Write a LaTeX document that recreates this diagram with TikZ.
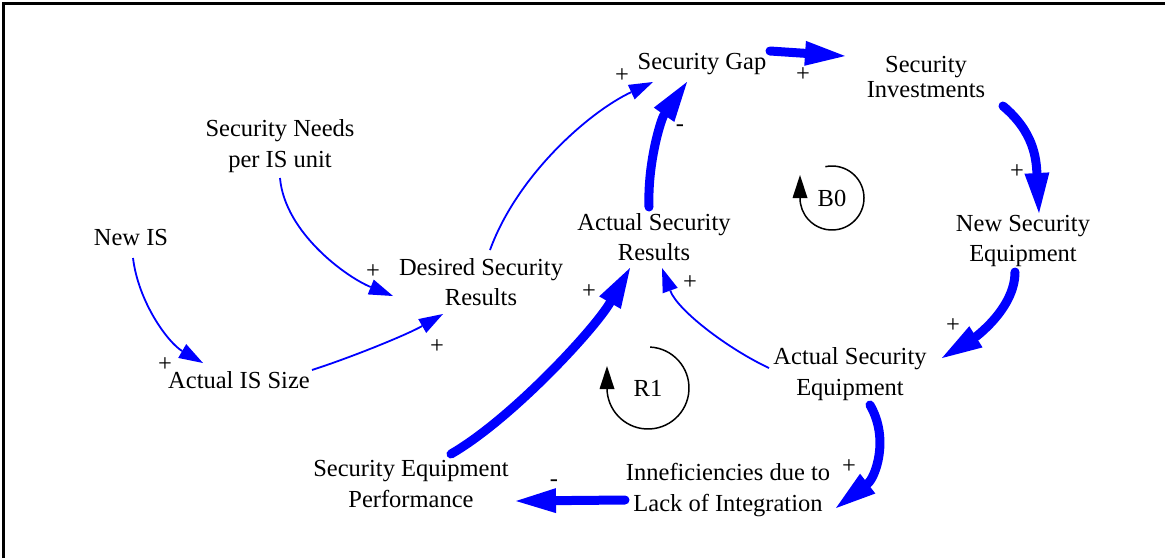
\documentclass[tikz,border=0pt]{standalone}
\usepackage{fontspec}
\setmainfont{Liberation Serif}
\usetikzlibrary{arrows.meta,calc}
\definecolor{linkblue}{RGB}{0,0,255}
\begin{document}
\begin{tikzpicture}[x=1pt,y=1pt,
  var/.style={align=center, inner sep=0pt, font=\fontsize{24.5}{30.5}\selectfont},
  sign/.style={inner sep=0pt, font=\fontsize{24.5}{30.5}\selectfont},
  thin link/.style={draw=linkblue, line width=1.8pt,
    -{Triangle[length=24pt,width=16pt,line width=0pt]}},
  thick link/.style={draw=linkblue, line width=9pt, line cap=round,
    -{Triangle[length=40pt,width=25pt,line width=0pt]}},
  loop arc/.style={draw=black, line width=1.5pt},
  loop tip/.style={draw=black, line width=1.5pt,
    -{Triangle[length=23pt,width=15pt,line width=0pt]}}
]
\useasboundingbox (0,0) rectangle (1165,-558);
% frame along the top and left edges
\draw[line width=3.5pt] (3.5,-558) -- (3.5,-3.5) -- (1165,-3.5);

% variables
\node[var] (gap)     at (702,-64)  {Security Gap};
\node[var] (inv)     at (926,-77)  {Security\\[-5pt]Investments};
\node[var] (needs)   at (280,-146) {Security Needs\\per IS unit};
\node[var] (newis)   at (131,-238) {New IS};
\node[var] (desired) at (481,-282) {Desired Security\\Results};
\node[var] (asr)     at (654,-237) {Actual Security\\Results};
\node[var] (nse)     at (1023,-241) {New Security\\Equipment};
\node[var] (size)    at (239,-380) {Actual IS Size};
\node[var] (ase)     at (850,-374) {Actual Security\\Equipment};
\node[var] (sep)     at (411,-484) {Security Equipment\\Performance};
\node[var] (ineff)   at (728,-490) {Inneficiencies due to\\Lack of Integration};

% loop identifiers
\node[var] (b0) at (832,-198) {B0};
\node[var] (r1) at (648,-388) {R1};
\draw[loop arc] (b0.center) ++(102:32) arc[start angle=102, end angle=-180, radius=32];
\draw[loop tip] ($(b0.center)+(-32,0)$) -- ++(0,23);
\draw[loop arc] (r1.center) ++(87:41) arc[start angle=87, end angle=-180, radius=41];
\draw[loop tip] ($(r1.center)+(-41,0)$) -- ++(0,22);

% strong causal links
\draw[thick link] ($(gap)+(68,13)$) -- ($(inv)+(-81,21)$);
\draw[thick link] ($(inv)+(77,-29)$) .. controls +(-40:40) and +(93:55) .. ($(nse)+(16,28)$);
\draw[thick link] ($(nse)+(-8,-31)$) .. controls +(-90:38) and +(32:35) .. ($(ase)+(92,16)$);
\draw[thick link] ($(ase)+(20,-31)$) .. controls +(-60:40) and +(37.6:49) .. ($(ineff)+(108,-18)$);
\draw[thick link] ($(ineff)+(-103,-10)$) -- ($(sep)+(105,-17)$);
\draw[thick link] ($(sep)+(40,30)$) .. controls +(30:70) and +(240:70) .. ($(asr)+(-24,-31)$);
\draw[thick link] ($(asr)+(-5,30)$) .. controls +(92:45) and +(235:45) .. ($(gap)+(-15,-18)$);

% ordinary causal links
\draw[thin link] ($(desired)+(9,32)$) .. controls +(70:80) and +(205:70) .. ($(gap)+(-49,-18)$);
\draw[thin link] ($(needs)+(0,-32)$) .. controls +(-85:55) and +(158:50) .. ($(desired)+(-88,-14)$);
\draw[thin link] ($(newis)+(2,-20)$) .. controls +(-83:45) and +(150:40) .. ($(size)+(-36,17)$);
\draw[thin link] ($(size)+(73,10)$) .. controls +(18:45) and +(210:40) .. ($(desired)+(-38,-32)$);
\draw[thin link] ($(ase)+(-81,6)$) .. controls +(155:45) and +(-70:45) .. ($(asr)+(8,-31)$);

% link polarities
\node[sign] (p1)  at (803,-75)  {+};
\node[sign] (p2)  at (1017,-172) {+};
\node[sign] (p3)  at (953,-326) {+};
\node[sign] (p4)  at (849,-467) {+};
\node[sign] (m1)  at (554,-483) {-};
\node[sign] (p5)  at (589,-292) {+};
\node[sign] (p6)  at (690,-283) {+};
\node[sign] (m2)  at (680,-128) {-};
\node[sign] (p7)  at (622,-76)  {+};
\node[sign] (p8)  at (373,-272) {+};
\node[sign] (p9)  at (437,-347) {+};
\node[sign] (p10) at (165,-365) {+};
\end{tikzpicture}
\end{document}
